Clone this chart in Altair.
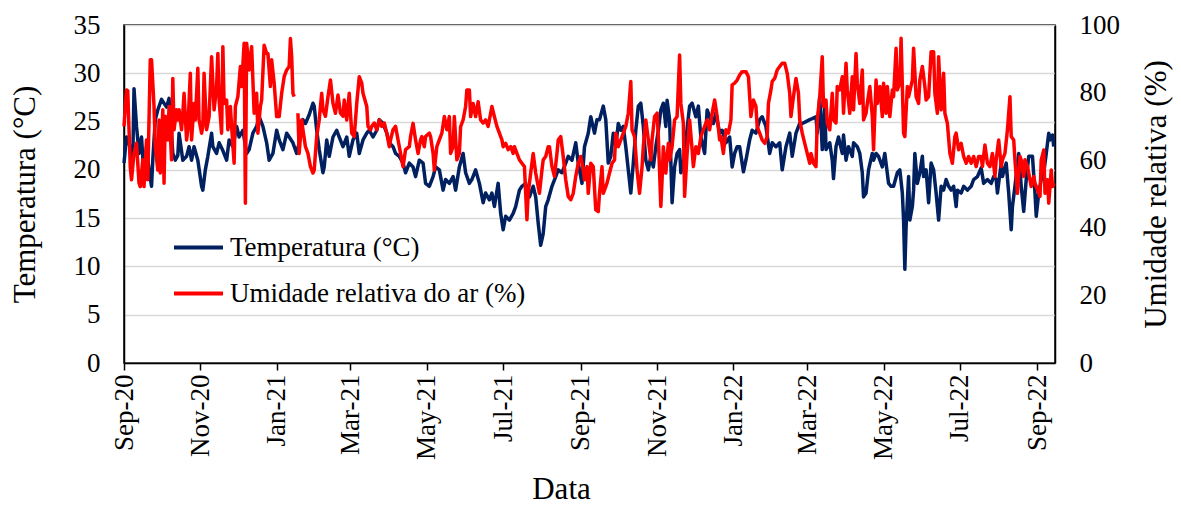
import altair as alt
import pandas as pd

# ---------------- data (day offsets from 2020-09-01) ----------------
temp_days = [
    0, 2, 4, 7, 8, 10, 12, 14, 16, 18,
    20, 22, 23, 25, 27, 30, 34, 36, 39, 41,
    43, 44, 47, 50, 52, 54, 56, 59, 62, 63,
    65, 67, 70, 71, 74, 76, 79, 82, 84, 87,
    90, 92, 95, 98, 100, 103, 106, 108, 111, 114,
    116, 119, 122, 124, 127, 130, 132, 135, 138, 140,
    143, 145, 148, 151, 152, 154, 156, 159, 160, 162,
    164, 167, 170, 172, 175, 178, 180, 183, 186, 188,
    191, 194, 196, 199, 202, 204, 207, 210, 212, 215,
    217, 220, 223, 225, 228, 231, 233, 236, 239, 241,
    244, 247, 249, 252, 255, 257, 260, 263, 265, 268,
    271, 273, 276, 278, 281, 284, 287, 289, 292, 294,
    296, 299, 301, 303, 305, 308, 311, 313, 316, 318,
    321, 324, 327, 329, 331, 333, 335, 337, 339, 342,
    345, 347, 350, 353, 355, 358, 361, 363, 366, 368,
    371, 373, 376, 378, 380, 383, 385, 387, 389, 391,
    393, 395, 397, 399, 401, 403, 405, 407, 409, 411,
    413, 415, 417, 419, 421, 423, 425, 427, 429, 431,
    433, 434, 436, 438, 440, 442, 444, 445, 447, 449,
    452, 454, 457, 459, 461, 464, 466, 469, 471, 473,
    476, 478, 481, 484, 486, 488, 490, 492, 495, 497,
    500, 502, 505, 508, 510, 513, 516, 518, 521, 524,
    526, 529, 532, 534, 537, 540, 542, 545, 548, 550,
    553, 554, 556, 558, 560, 561, 564, 566, 567, 569,
    571, 574, 575, 577, 579, 582, 583, 586, 588, 590,
    591, 593, 595, 598, 599, 601, 603, 606, 608, 611,
    613, 615, 618, 620, 622, 623, 624, 625, 627, 628,
    630, 631, 632, 634, 636, 638, 639, 641, 643, 645,
    647, 649, 651, 653, 655, 657, 659, 661, 663, 665,
    666, 669, 671, 674, 677, 679, 682, 685, 687, 690,
    693, 695, 697, 698, 701, 702, 705, 707, 709, 710,
    712, 715, 717, 719, 721, 723, 726, 728, 729, 731,
    733, 735, 737, 739, 740, 742, 743,
]
temp_vals = [
    20.7, 23.4, 22.8, 21.0, 28.4, 24.5, 21.7, 23.4, 19.3, 22.4,
    20.0, 18.3, 21.0, 25.2, 26.2, 27.3, 26.5, 27.4, 21.7, 21.0,
    21.5, 23.8, 21.0, 21.4, 22.4, 21.0, 22.4, 21.0, 18.3, 17.9,
    20.0, 21.4, 23.8, 22.4, 21.7, 22.8, 22.0, 21.0, 23.1, 22.4,
    24.5, 23.4, 24.1, 21.7, 22.1, 23.8, 24.5, 25.5, 24.5, 22.8,
    21.0, 21.7, 24.1, 23.1, 22.1, 23.8, 23.4, 22.8, 21.7, 22.8,
    25.2, 24.8, 25.7, 26.9, 26.6, 24.1, 22.1, 19.7, 20.3, 23.1,
    21.4, 23.4, 24.1, 23.4, 22.4, 23.4, 21.4, 23.1, 23.8, 21.7,
    23.1, 23.8, 24.1, 23.4, 24.1, 25.2, 24.8, 23.8, 22.8, 22.4,
    21.7, 21.4, 20.7, 19.7, 20.7, 20.3, 19.3, 21.0, 20.7, 18.6,
    18.3, 19.3, 20.3, 20.0, 17.9, 19.0, 18.6, 19.3, 17.9, 20.3,
    21.7, 19.7, 18.6, 19.0, 20.0, 18.6, 16.6, 17.6, 16.9, 17.6,
    16.2, 18.6, 15.5, 13.8, 15.2, 14.8, 15.5, 16.2, 17.9, 18.3,
    18.6, 17.2, 18.3, 17.2, 14.5, 12.2, 13.4, 16.2, 16.9, 18.3,
    19.3, 20.0, 19.7, 20.7, 21.4, 21.0, 22.8, 20.7, 18.6, 22.4,
    23.8, 25.5, 23.8, 25.2, 25.2, 26.6, 25.2, 20.7, 21.4, 23.8,
    22.4, 24.8, 24.1, 24.5, 22.4, 20.0, 17.6, 20.7, 24.1, 26.6,
    26.9, 24.5, 21.0, 20.0, 21.4, 20.3, 22.4, 24.1, 26.2, 26.9,
    24.5, 27.2, 25.2, 16.6, 20.3, 21.7, 22.1, 19.7, 20.7, 23.1,
    26.6, 26.9, 25.5, 26.6, 23.4, 21.7, 26.2, 25.2, 24.8, 25.9,
    23.8, 24.1, 22.8, 23.4, 20.3, 21.7, 22.4, 22.4, 19.8, 21.0,
    23.1, 24.1, 23.8, 25.2, 25.5, 24.5, 21.7, 22.8, 22.4, 22.8,
    20.0, 22.4, 23.8, 21.4, 23.8, 24.8, 24.8, 25.0, 25.2, 25.3,
    25.5, 23.8, 27.6, 22.1, 26.9, 22.1, 22.8, 21.0, 19.1, 22.4,
    23.4, 21.7, 23.6, 21.0, 22.4, 21.4, 22.8, 22.4, 21.7, 19.7,
    17.2, 17.6, 20.0, 21.7, 21.0, 21.7, 21.4, 20.3, 21.7, 18.6,
    18.3, 18.3, 19.7, 20.0, 17.6, 14.8, 9.7, 14.1, 19.3, 14.8,
    16.2, 17.9, 21.7, 18.6, 19.7, 21.4, 19.3, 20.0, 16.6, 20.7,
    20.0, 17.6, 14.8, 18.3, 17.9, 19.0, 18.3, 17.9, 18.3, 16.2,
    17.9, 17.6, 18.3, 17.9, 18.3, 19.0, 19.3, 20.2, 18.6, 19.0,
    18.6, 19.3, 19.0, 17.6, 20.7, 19.3, 20.7, 17.6, 13.8, 16.2,
    18.3, 21.7, 18.3, 15.7, 19.0, 21.4, 21.4, 17.6, 15.2, 17.6,
    19.0, 19.7, 21.7, 23.8, 23.1, 23.6, 22.4,
]

hum_days = [
    0, 2, 3, 5, 6, 8, 10, 12, 13, 15,
    16, 18, 19, 21, 22, 24, 25, 27, 28, 29,
    31, 32, 33, 35, 36, 38, 39, 40, 42, 43,
    44, 46, 47, 48, 50, 51, 53, 54, 56, 57,
    59, 60, 62, 63, 64, 66, 68, 70, 72, 74,
    75, 76, 78, 79, 80, 82, 83, 85, 86, 88,
    89, 91, 93, 94, 96, 97, 98, 100, 102, 104,
    106, 107, 109, 110, 112, 114, 115, 117, 118, 120,
    122, 124, 126, 128, 130, 132, 133, 134, 135, 136,
    137, 139, 140, 142, 143, 145, 147, 149, 151, 152,
    154, 156, 158, 159, 161, 163, 165, 167, 169, 171,
    173, 175, 176, 178, 180, 182, 184, 186, 188, 190,
    191, 194, 195, 197, 198, 200, 202, 204, 206, 208,
    210, 212, 213, 215, 217, 220, 221, 223, 225, 228,
    229, 231, 233, 235, 237, 238, 240, 241, 244, 245,
    247, 248, 250, 252, 254, 256, 258, 260, 261, 263,
    264, 266, 268, 269, 271, 273, 274, 276, 277, 279,
    281, 283, 285, 287, 289, 291, 293, 294, 296, 298,
    300, 302, 303, 305, 307, 309, 311, 312, 314, 316,
    318, 320, 322, 323, 325, 327, 329, 331, 332, 334,
    335, 337, 339, 340, 342, 344, 346, 347, 349, 351,
    353, 355, 357, 359, 361, 363, 365, 367, 368, 370,
    371, 373, 375, 377, 379, 380, 382, 383, 385, 386,
    388, 390, 392, 393, 395, 396, 398, 400, 401, 403,
    405, 406, 408, 410, 412, 414, 415, 417, 419, 421,
    422, 424, 426, 427, 429, 430, 431, 433, 435, 436,
    438, 440, 442, 444, 445, 447, 448, 450, 452, 454,
    455, 457, 459, 461, 462, 464, 466, 468, 470, 472,
    474, 476, 477, 479, 481, 483, 485, 486, 488, 490,
    492, 494, 497, 499, 501, 503, 505, 506, 508, 510,
    512, 514, 515, 517, 518, 520, 522, 524, 526, 528,
    530, 532, 533, 535, 537, 539, 540, 542, 544, 546,
    548, 549, 551, 553, 554, 556, 558, 559, 561, 562,
    564, 566, 567, 569, 570, 572, 574, 575, 577, 578,
    580, 582, 583, 585, 586, 588, 590, 591, 593, 594,
    596, 598, 599, 601, 602, 604, 606, 607, 609, 610,
    612, 614, 615, 617, 618, 620, 621, 623, 624, 626,
    627, 630, 631, 633, 635, 636, 638, 640, 641, 643,
    645, 647, 648, 650, 651, 653, 655, 656, 658, 660,
    662, 664, 665, 667, 669, 671, 673, 675, 677, 679,
    681, 683, 685, 686, 688, 690, 692, 694, 696, 697,
    699, 701, 702, 704, 706, 708, 709, 711, 712, 714,
    716, 717, 719, 720, 722, 724, 725, 727, 728, 730,
    732, 733, 735, 736, 738, 739, 741, 742, 743,
]
hum_vals = [
    70.0, 80.8, 80.5, 58.0, 54.2, 62.0, 65.0, 53.2, 52.2, 60.1,
    52.2, 66.0, 54.2, 89.7, 89.7, 75.9, 64.0, 57.1, 71.9, 56.2,
    74.9, 53.2, 73.0, 66.0, 75.9, 60.1, 84.2, 69.0, 74.9, 71.9,
    74.9, 69.0, 73.9, 79.8, 66.0, 69.0, 85.7, 66.0, 76.8, 71.9,
    87.2, 71.9, 68.0, 70.0, 85.7, 69.0, 72.9, 90.6, 74.9, 81.8,
    91.6, 77.8, 68.0, 93.6, 76.8, 77.8, 69.0, 75.9, 70.0, 59.1,
    75.9, 78.8, 87.7, 81.8, 94.6, 47.3, 94.6, 86.7, 93.6, 73.9,
    79.8, 68.0, 75.9, 77.8, 94.0, 91.6, 91.6, 81.8, 89.7, 82.8,
    72.9, 72.9, 79.8, 84.7, 86.7, 87.7, 96.0, 90.6, 79.8, 78.8,
    None, 73.9, 62.0, 71.9, 69.0, 64.0, 62.0, 58.1, 56.2, 57.1,
    67.0, 71.9, 79.8, 74.9, 73.0, 78.8, 83.7, 76.8, 73.9, 79.3,
    73.9, 73.0, 77.8, 71.9, 79.8, 68.0, 67.0, 76.8, 84.7, 82.8,
    79.8, 75.9, 70.0, 69.0, 70.0, 71.0, 69.0, 71.9, 70.0, 71.0,
    68.0, 64.0, 66.0, 69.0, 70.0, 64.0, 62.0, 58.1, 63.1, 64.0,
    67.0, 70.9, 66.0, 62.0, 66.0, 67.0, 64.0, 67.0, 68.0, 67.0,
    62.0, 57.1, 64.0, 66.0, 68.0, 72.9, 69.0, 72.9, 62.0, 64.0,
    72.9, 60.1, 62.0, 69.9, 71.9, 75.9, 80.8, 80.8, 72.9, 76.8,
    72.9, 77.3, 71.9, 71.0, 71.9, 70.0, 73.9, 75.9, 72.9, 70.0,
    68.0, 66.0, 64.0, 65.0, 63.1, 64.0, 62.0, 64.0, 62.0, 60.1,
    59.1, 58.1, 42.4, 50.2, 56.2, 62.0, 56.2, 52.2, 50.2, 57.1,
    60.1, 61.1, 64.0, 64.0, 58.1, 55.2, 62.0, 66.0, 67.0, 61.1,
    54.2, 49.3, 48.3, 50.2, 55.2, 59.1, 61.1, 57.1, 54.2, 58.1,
    50.2, 59.1, 58.1, 45.3, 44.8, 50.2, 58.1, 50.2, 52.2, 53.2,
    56.2, 59.1, 60.1, 68.0, 64.0, 65.0, 67.0, 69.0, 70.0, 73.9,
    83.3, 69.0, 67.0, 57.1, 50.2, 58.1, 64.0, 71.9, 66.0, 60.1,
    66.0, 72.9, 73.9, 67.0, 46.3, 54.2, 64.0, 56.2, 65.0, 60.1,
    64.0, 71.9, 72.9, 91.1, 76.8, 71.0, 49.3, 62.0, 71.9, 63.1,
    58.1, 64.0, 62.0, 67.0, 68.0, 70.0, 71.9, 69.0, 73.9, 77.8,
    72.9, 66.0, 67.0, 62.0, 69.0, 68.0, 71.9, 82.3, 82.8, 83.7,
    85.2, 86.2, 86.2, 84.7, 72.9, 77.8, 75.9, 69.9, 68.0, 66.0,
    65.0, 67.0, 76.8, 80.8, 83.3, 84.2, 86.7, 87.7, 88.7, 88.7,
    85.7, 79.8, 72.9, 78.8, 84.2, 79.8, 71.9, 68.0, 65.0, 62.0,
    59.1, 62.0, 59.1, 58.1, 71.9, 78.8, 90.6, 75.9, 77.8, 71.0,
    69.0, 79.8, 71.9, 71.0, 81.8, 80.8, 84.7, 73.9, 88.7, 80.8,
    73.9, 84.7, 74.9, 91.6, 82.8, 76.8, 86.7, 71.9, 73.9, 76.8,
    81.8, 72.9, 63.1, 83.7, 76.8, 81.8, 72.9, 82.8, 73.9, 81.8,
    72.9, 80.8, 78.8, 93.1, 80.8, 82.8, 96.1, 68.0, 67.0, 81.8,
    78.8, 83.7, 93.1, 78.8, 76.8, 83.7, 87.7, 81.8, 77.8, 78.8,
    92.1, 92.1, 79.8, 73.9, 90.6, 74.9, 85.7, 73.9, 70.9, 62.0,
    59.1, 67.0, 68.0, 63.1, 65.0, 61.1, 59.1, 61.1, 59.1, 61.1,
    58.1, 61.1, 61.1, 58.1, 64.5, 59.1, 58.1, 62.0, 55.2, 60.1,
    66.0, 58.1, 60.1, 62.0, 69.0, 78.8, 67.0, 66.0, 60.1, 50.2,
    61.1, 60.1, 55.2, 60.1, 58.1, 54.2, 52.2, 55.2, 53.2, 51.2,
    49.3, 60.1, 63.0, 50.2, 54.2, 47.3, 57.1, 52.2, 53.2,
]

series_names = ["Temperatura (°C)", "Umidade relativa do ar (%)"]
series_colors = ["#002060", "#FF0000"]
temp_ticks = [0, 5, 10, 15, 20, 25, 30, 35]
hum_ticks = [0, 20, 40, 60, 80, 100]
month_ticks = [(2020, 9), (2020, 11), (2021, 1), (2021, 3), (2021, 5), (2021, 7),
               (2021, 9), (2021, 11), (2022, 1), (2022, 3), (2022, 5), (2022, 7), (2022, 9)]

# ---------------- frames ----------------
start = pd.Timestamp("2020-09-01")
temp_df = pd.DataFrame({
    "date": start + pd.to_timedelta(temp_days, unit="D"),
    "value": temp_vals,
    "series": series_names[0],
    "seg": 0,
})
segs, s = [], 0
for v in hum_vals:
    if v is None:
        s += 1
    segs.append(s)
hum_df = pd.DataFrame({
    "date": start + pd.to_timedelta(hum_days, unit="D"),
    "value": hum_vals,
    "series": series_names[1],
    "seg": segs,
})
hum_df = hum_df[hum_df["value"].notna()]

FONT = "Liberation Serif"
LW = 3.5

color = alt.Color(
    "series:N",
    scale=alt.Scale(domain=series_names, range=series_colors),
    legend=alt.Legend(title=None, orient="none", legendX=48, legendY=196,
                      symbolType="stroke", symbolSize=2401, symbolStrokeWidth=3.8,
                      labelFont=FONT, labelFontSize=27, labelColor="black",
                      labelOffset=5, rowPadding=6, padding=0, labelLimit=600),
)

x_enc = alt.X(
    "date:T",
    scale=alt.Scale(domain=[alt.DateTime(year=2020, month=9, date=1),
                            alt.DateTime(year=2022, month=9, date=15)]),
    axis=alt.Axis(
        values=[alt.DateTime(year=y, month=m, date=1) for y, m in month_ticks],
        format="%b-%y", labelAngle=270, labelAlign="right", labelBaseline="middle",
        labelFlush=False, labelOverlap=False, labelPadding=4,
        tickSize=7, ticks=True, tickColor="black", tickWidth=1.5,
        grid=False, title="Data", titleX=437, titleY=126,
        titleBaseline="middle", titleAlign="center",
    ),
)

temp_line = alt.Chart(temp_df).mark_line(strokeWidth=LW, strokeJoin="round").encode(
    x=x_enc,
    y=alt.Y("value:Q", scale=alt.Scale(domain=[0, 35]),
            axis=alt.Axis(orient="left", values=temp_ticks, ticks=False, labelPadding=24,
                          grid=True, title="Temperatura (°C)", titleX=-99, titleY=169,
                          titleAlign="center", titleBaseline="middle", titleAngle=270)),
    color=color,
    detail="seg:N",
)

hum_line = alt.Chart(hum_df).mark_line(strokeWidth=LW, strokeJoin="round").encode(
    x=alt.X("date:T"),
    y=alt.Y("value:Q", scale=alt.Scale(domain=[0, 100]),
            axis=alt.Axis(orient="right", values=hum_ticks, ticks=False, labelPadding=24,
                          grid=False, title="Umidade relativa (%)", titleX=101, titleY=169,
                          titleAlign="center", titleBaseline="middle", titleAngle=270)),
    color=color,
    detail="seg:N",
)

chart = alt.layer(temp_line, hum_line).resolve_scale(y="independent").properties(
    width=931, height=338,
    autosize=alt.AutoSizeParams(type="none"),
    padding={"left": 116, "top": 17, "right": 118, "bottom": 141},
).configure_view(
    stroke="black", strokeWidth=1.5,
).configure_axis(
    labelFont=FONT, titleFont=FONT, labelColor="black", titleColor="black",
    labelFontSize=27, titleFontSize=31, titleFontWeight="normal",
    domainColor="black", domainWidth=1.5, gridColor="#d9d9d9", gridWidth=1.5,
)

chart.save("out.html", embed_options={"renderer": "svg", "actions": False})
